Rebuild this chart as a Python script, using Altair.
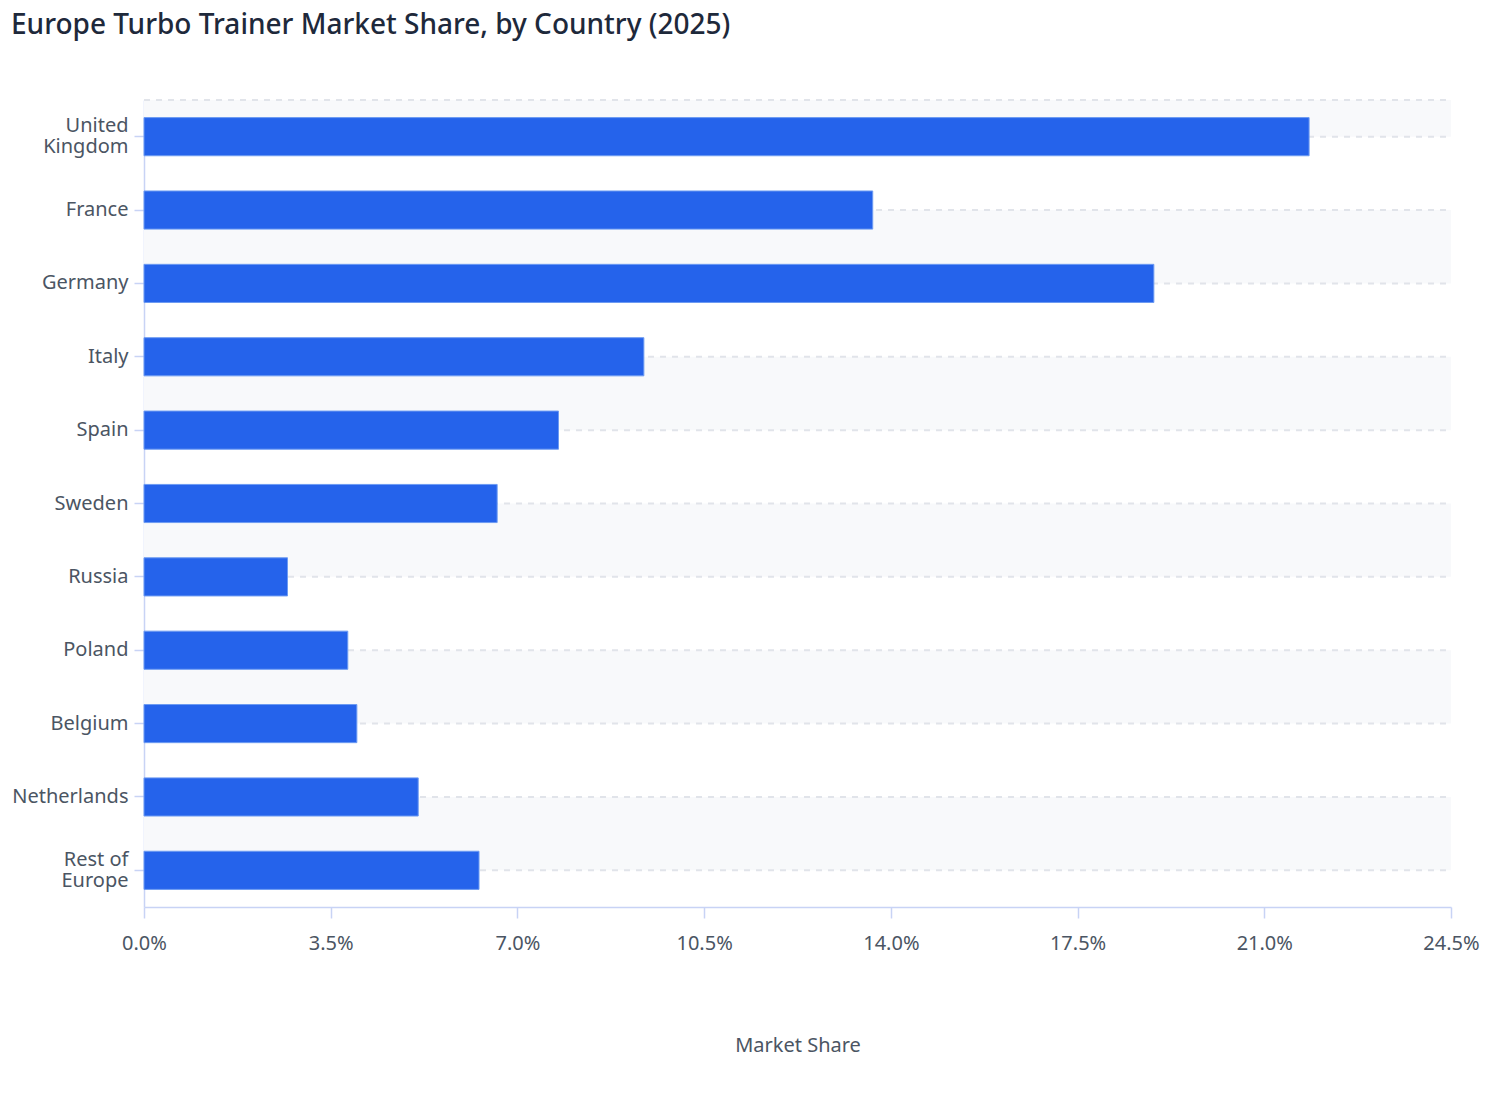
import altair as alt
import pandas as pd

countries = ["United Kingdom", "France", "Germany", "Italy", "Spain", "Sweden",
             "Russia", "Poland", "Belgium", "Netherlands", "Rest of Europe"]
shares = [21.84, 13.66, 18.93, 9.37, 7.77, 6.62, 2.69, 3.82, 3.99, 5.14, 6.28]
x_ticks = [0, 3.5, 7.0, 10.5, 14.0, 17.5, 21.0, 24.5]

W, H = 1307, 807
n = len(countries)

df = pd.DataFrame({"country": countries, "share": shares})

# alternating shaded bands between category centres (style only)
band_start = [-0.5] + [i for i in range(1, n, 2)]
band_end = [0] + [i + 1 for i in range(1, n, 2)]
bands = pd.DataFrame({"y0": band_start, "y1": band_end})
grid = pd.DataFrame({"g": [-0.5] + list(range(n))})

yq = alt.Scale(domain=[-0.5, n - 0.5], reverse=True, nice=False, zero=False)

band_layer = alt.Chart(bands).mark_rect(color="#f8f9fb").encode(
    y=alt.Y("y0:Q", scale=yq, axis=None),
    y2="y1:Q",
    x=alt.value(0),
    x2=alt.value(W),
)

grid_layer = alt.Chart(grid).mark_rule(
    color="#e1e4ea", strokeWidth=2, strokeDash=[6, 6]
).encode(
    y=alt.Y("g:Q", scale=yq, axis=None),
    x=alt.value(0),
    x2=alt.value(W),
)

label_expr = ("datum.label == 'United Kingdom' ? ['United', 'Kingdom'] : "
              "datum.label == 'Rest of Europe' ? ['Rest of', 'Europe'] : datum.label")
two_line = "datum.value == 'United Kingdom' || datum.value == 'Rest of Europe'"

bars = alt.Chart(df).mark_bar(
    color="#2563eb", stroke="#6d9bf2", strokeWidth=1
).encode(
    y=alt.Y("country:N", sort=countries,
            scale=alt.Scale(paddingInner=0.48, paddingOuter=0.24),
            axis=alt.Axis(title=None, labelExpr=label_expr, labelLineHeight=21,
                          labelOffset=alt.condition(two_line, alt.value(-10.5), alt.value(0)),
                          labelFontSize=20, labelColor="#4b5563", labelFont="Noto Sans",
                          tickSize=10, tickColor="#c8d3f5", tickWidth=1.5,
                          domainColor="#c8d3f5", domainWidth=1.5,
                          labelPadding=6, grid=False, bandPosition=0.5)),
    x=alt.X("share:Q",
            scale=alt.Scale(domain=[0, 24.5], nice=False, zero=True),
            axis=alt.Axis(title="Market Share", values=x_ticks,
                          labelExpr="format(datum.value, '.1f') + '%'",
                          labelFontSize=20, labelColor="#4b5563", labelFont="Noto Sans",
                          titleFontSize=20, titleColor="#4b5563", titleFont="Noto Sans",
                          titleFontWeight="normal", titlePadding=82,
                          tickSize=11, tickColor="#c8d3f5", tickWidth=1.5,
                          domainColor="#c8d3f5", domainWidth=1.5,
                          labelPadding=15, grid=False, labelFlush=False)),
)

chart = alt.layer(band_layer, grid_layer, bars).resolve_scale(
    y="independent"
).properties(
    width=W, height=H,
    autosize=alt.AutoSizeParams(type="none"),
    padding={"left": 136, "top": 92, "right": 40, "bottom": 180},
    title=alt.TitleParams(
        "Europe Turbo Trainer Market Share, by Country (2025)",
        anchor="start", frame="group", dx=-133, offset=59,
        fontSize=28, fontWeight=500, font="Noto Sans", color="#1e293b",
    ),
).configure_view(stroke=None)

chart.save("out.html", embed_options={"renderer": "svg", "actions": False})
